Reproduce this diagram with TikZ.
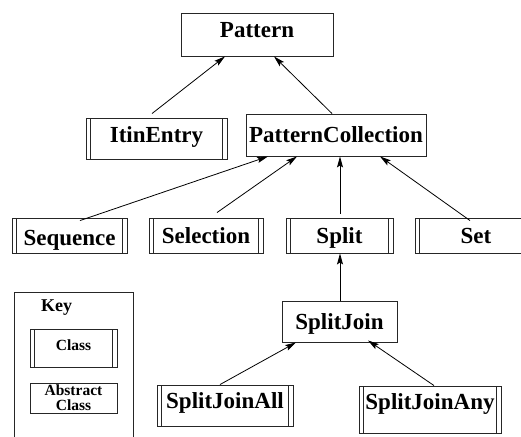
\documentclass[tikz,border=0pt]{standalone}
\usepackage{fontspec}
\setmainfont{Liberation Serif}[BoldFont={Liberation Serif Bold}]
\newfontfamily\tbf{Liberation Serif Bold}
\usetikzlibrary{arrows.meta}
\tikzset{
  box/.style={draw=black!85, line width=0.9pt, rectangle, inner sep=0pt,
    font=\tbf\fontsize{23}{25}\selectfont, text height=15.5pt, text depth=0pt},
  cls/.style={box, path picture={
    \draw[black!85, line width=0.9pt]
      ([xshift=4.5pt]path picture bounding box.north west) -- ([xshift=4.5pt]path picture bounding box.south west)
      ([xshift=-4.5pt]path picture bounding box.north east) -- ([xshift=-4.5pt]path picture bounding box.south east);}},
  small/.style={font=\tbf\fontsize{15.5}{15}\selectfont, text height=10.5pt},
  inh/.style={draw=black, line width=0.8pt, -{Stealth[length=11pt,width=6pt,inset=2pt]}},
}
\begin{document}
\begin{tikzpicture}[x=1pt,y=-1pt]
\useasboundingbox (0,0) rectangle (521,436);
\clip (0,0) rectangle (521,436);
% top
\node[box, minimum width=152pt, minimum height=43pt, text depth=10pt] (pattern) at (257,34.5) {Pattern};
\node[cls, minimum width=141pt, minimum height=41pt, text depth=7pt] (itin) at (156.5,138.5) {ItinEntry};
\node[box, minimum width=180pt, minimum height=42pt] (pc) at (336,135) {PatternCollection};
% row 3
\node[cls, minimum width=115pt, minimum height=35pt, text height=19pt] (seq) at (69.5,235.5) {Sequence};
\node[cls, minimum width=114pt, minimum height=35pt] (sel) at (206,235.5) {Selection};
\node[cls, minimum width=107pt, minimum height=35pt] (split) at (339.5,235.5) {Split};
\node[cls, minimum width=122pt, minimum height=35pt] (set) at (476,235.5) {Set};
% split join
\node[box, minimum width=115pt, minimum height=41pt] (sj) at (339.5,321.5) {SplitJoin};
\node[cls, minimum width=136pt, minimum height=41pt, text depth=10pt] (sjall) at (225,405.5) {SplitJoinAll};
\node[cls, minimum width=142pt, minimum height=47pt, text depth=16pt] (sjany) at (430,409.5) {SplitJoinAny};
% key
\node[draw=black!85, line width=0.9pt, rectangle, inner sep=0pt, minimum width=119pt, minimum height=160pt] (keybox) at (73.5,372) {};
\node[font=\tbf\fontsize{18}{18}\selectfont, inner sep=0pt] (keylbl) at (56.5,308) {Key};
\node[cls, small, minimum width=87pt, minimum height=38pt, text depth=6pt] (keycls) at (73.5,348) {Class};
\node[box, small, minimum width=87pt, minimum height=30pt, align=center, text height=, text depth=,
  font=\tbf\fontsize{15.5}{15}\selectfont] (keyabs) at (73.5,398) {Abstract\\Class};
% connectors
\draw[inh] ([xshift=-4.5pt,yshift=4pt]itin.north) -- ([xshift=-32pt]pattern.south);
\draw[inh] ([xshift=-4pt]pc.north) -- ([xshift=17pt]pattern.south);
\draw[inh] ([xshift=10.5pt,yshift=-3pt]seq.north) -- ([xshift=-68pt]pc.south);
\draw[inh] ([xshift=11pt,yshift=5pt]sel.north) -- ([xshift=-39pt]pc.south);
\draw[inh] ([xshift=0.5pt,yshift=4pt]split.north) -- ([xshift=4pt]pc.south);
\draw[inh] ([xshift=-6pt,yshift=-3pt]set.north) -- ([xshift=44pt]pc.south);
\draw[inh] ([xshift=0.5pt]sj.north) -- ([xshift=0.5pt]split.south);
\draw[inh] ([xshift=-5pt]sjall.north) -- ([xshift=-43.5pt]sj.south);
\draw[inh] ([xshift=4pt]sjany.north) -- ([xshift=28.5pt,yshift=2pt]sj.south);
\end{tikzpicture}
\end{document}
